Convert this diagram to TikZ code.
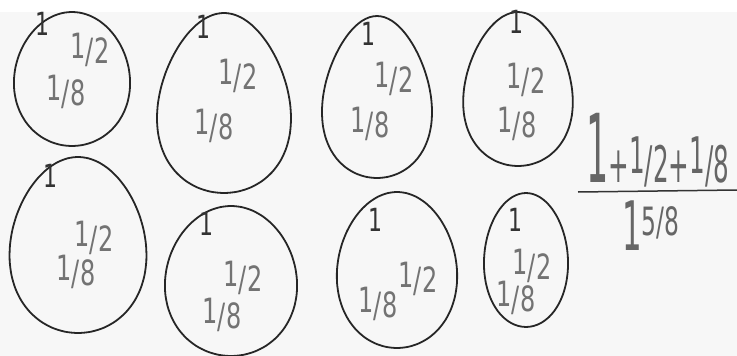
\documentclass[tikz,border=0pt]{standalone}
\usepackage{fontspec}
\setmainfont{DejaVu Sans}
\begin{document}
\begin{tikzpicture}[x=1pt,y=-1pt,
  pen/.style={draw=black!85,line width=1.8pt,line join=round},
  one/.style={text=black!80,font=\fontsize{22}{22}\selectfont,inner sep=0pt},
  frac/.style={text=black!55,font=\fontsize{24}{24}\selectfont,inner sep=0pt},
  big/.style={text=black!60,inner sep=0pt}]
\newcommand{\hf}[2]{\raisebox{0.3ex}{#1}/#2}
\newcommand{\tl}[1]{\scalebox{1}[1.45]{#1}}
\newcommand{\egg}[5]{\draw[pen] plot[smooth cycle,domain=0:350,samples=36,variable=\t]
  ({#1+#3*cos(\t)*(1+#5*sin(\t))},{#2+#4*sin(\t)});}
\useasboundingbox (0,0) rectangle (737,356);
\fill[black!3] (0,12) rectangle (737,356);
% ovals
\egg{72}{79}{58}{67}{0.06}
\egg{224}{103}{66}{90}{0.18}
\egg{377}{97}{54}{81}{0.2}
\egg{518}{89}{54}{77}{0.18}
\egg{78}{245}{68}{88}{0.12}
\egg{231}{281}{66}{75}{0.06}
\egg{397}{270}{60}{78}{0.08}
\egg{526}{260}{42}{67}{0.05}
% labels
\node[one] (a1) at (42,24) {\tl{1}};
\node[frac] (b1) at (90,50) {\tl{\hf{1}{2}}};
\node[frac] (c1) at (66,92) {\tl{\hf{1}{8}}};
\node[one] (a2) at (203,27) {\tl{1}};
\node[frac] (b2) at (238,76) {\tl{\hf{1}{2}}};
\node[frac] (c2) at (214,126) {\tl{\hf{1}{8}}};
\node[one] (a3) at (368,34) {\tl{1}};
\node[frac] (b3) at (394,79) {\tl{\hf{1}{2}}};
\node[frac] (c3) at (370,124) {\tl{\hf{1}{8}}};
\node[one] (a4) at (516,22) {\tl{1}};
\node[frac] (b4) at (526,80) {\tl{\hf{1}{2}}};
\node[frac] (c4) at (517,124) {\tl{\hf{1}{8}}};
\node[one] (a5) at (50,176) {\tl{1}};
\node[frac] (b5) at (94,238) {\tl{\hf{1}{2}}};
\node[frac] (c5) at (76,272) {\tl{\hf{1}{8}}};
\node[one] (a6) at (206,224) {\tl{1}};
\node[frac] (b6) at (243,278) {\tl{\hf{1}{2}}};
\node[frac] (c6) at (222,315) {\tl{\hf{1}{8}}};
\node[one] (a7) at (375,220) {\tl{1}};
\node[frac] (b7) at (418,279) {\tl{\hf{1}{2}}};
\node[frac] (c7) at (378,304) {\tl{\hf{1}{8}}};
\node[one] (a8) at (515,220) {\tl{1}};
\node[frac] (b8) at (532,266) {\tl{\hf{1}{2}}};
\node[frac] (c8) at (516,298) {\tl{\hf{1}{8}}};
% sum
\node[big,anchor=base west] (sum) at (586,182)
  {\fontsize{50}{50}\selectfont\scalebox{0.7}[1.9]{1}\fontsize{28}{28}\selectfont\scalebox{0.88}[1.8]{+\hf{1}{2}+\hf{1}{8}}};
\coordinate (l) at (578,192);
\coordinate (r) at (737,190);
\draw[draw=black!80,line width=1.5pt] (l) -- (r);
\node[big,anchor=base west] (res) at (622,250)
  {\fontsize{44}{44}\selectfont\scalebox{0.7}[1.55]{1}\raisebox{0.6ex}{\fontsize{26}{26}\selectfont\scalebox{0.9}[1.5]{5/8}}};
\end{tikzpicture}
\end{document}
